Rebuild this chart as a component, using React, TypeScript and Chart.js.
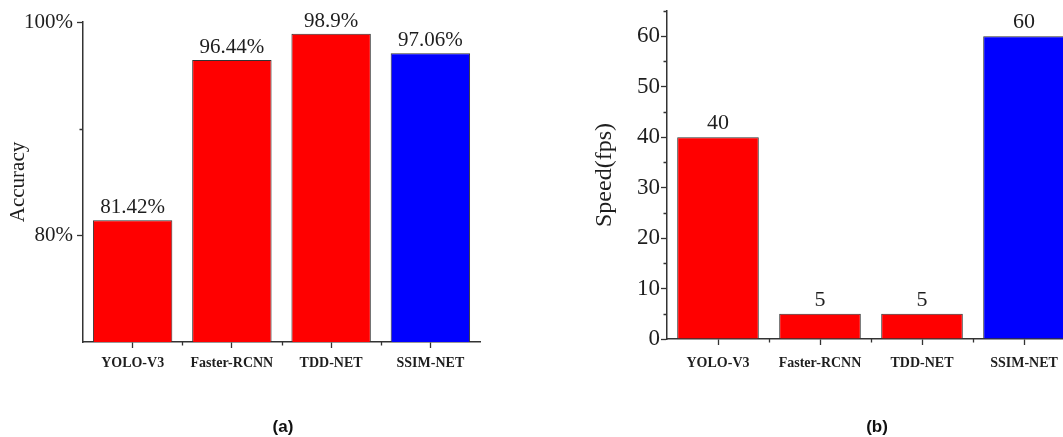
import React, { useEffect, useRef } from "react";
import { Chart, registerables } from "chart.js";

Chart.register(...registerables);

// ---------- data ----------
const models = ["YOLO-V3", "Faster-RCNN", "TDD-NET", "SSIM-NET"];
const accuracy = [81.42, 96.44, 98.9, 97.06];
const speed = [40, 5, 5, 60];
const barColors = ["#FF0000", "#FF0000", "#FF0000", "#0000FF"];
const accuracyMajorTicks = [80, 100];
const accuracyMinorTicks = [90];
const speedMajorTicks = [0, 10, 20, 30, 40, 50, 60];
const speedMinorTicks = [5, 15, 25, 35, 45, 55, 65];

const SERIF = "'Liberation Serif', 'Times New Roman', serif";
const SANS = "'Liberation Sans', Arial, sans-serif";
const AXIS = "#333333";
const TEXT = "#1e1e1e";

const extrasPlugin = {
  id: "extras",
  afterDraw(chart: any, _args: any, opts: any) {
    const ctx = chart.ctx;
    const meta = chart.getDatasetMeta(0);
    const xs = chart.scales.x;
    const ys = chart.scales.y;
    ctx.save();
    // value labels above bars
    ctx.fillStyle = TEXT;
    ctx.font = `${opts.labelSize}px ${SERIF}`;
    ctx.textAlign = "center";
    ctx.textBaseline = "alphabetic";
    meta.data.forEach((bar: any, i: number) => {
      ctx.fillText(opts.labels[i], bar.x, bar.y - opts.labelGap);
    });
    // panel caption
    ctx.fillStyle = "#111111";
    ctx.font = `bold 17px ${SANS}`;
    ctx.textBaseline = "middle";
    ctx.fillText(opts.caption, (xs.left + xs.right) / 2 + opts.captionDx, opts.captionY);
    // minor ticks
    ctx.strokeStyle = AXIS;
    ctx.lineWidth = 1.3;
    ctx.beginPath();
    (opts.minorY as number[]).forEach((v) => {
      const py = Math.round(ys.getPixelForValue(v)) + 0.5;
      ctx.moveTo(ys.right, py);
      ctx.lineTo(ys.right - 3.5, py);
    });
    for (let i = 1; i < models.length; i++) {
      const px = Math.round(xs.getPixelForValue(i - 0.5)) + 0.5;
      ctx.moveTo(px, xs.top);
      ctx.lineTo(px, xs.top + 3.5);
    }
    ctx.stroke();
    ctx.restore();
  },
};

function buildConfig(p: any) {
  return {
    type: "bar",
    data: {
      labels: models,
      datasets: [
        {
          data: p.values,
          base: p.min,
          backgroundColor: barColors,
          borderColor: AXIS,
          borderWidth: 1,
          barPercentage: 0.8,
          categoryPercentage: 1,
        },
      ],
    },
    options: {
      animation: false,
      responsive: false,
      maintainAspectRatio: false,
      layout: { padding: { top: p.padTop, left: 0, right: p.padRight, bottom: 0 } },
      plugins: {
        legend: { display: false },
        tooltip: { enabled: false },
        extras: {
          labels: p.labels,
          labelSize: p.labelSize,
          labelGap: p.labelGap,
          minorY: p.minorTicks,
          caption: p.caption,
          captionDx: p.captionDx,
          captionY: 427,
        },
      },
      scales: {
        x: {
          offset: true,
          grid: {
            display: true,
            drawOnChartArea: false,
            offset: false,
            tickLength: 6,
            tickColor: AXIS,
            tickWidth: 1.3,
          },
          border: { display: true, color: AXIS, width: 1.5 },
          ticks: {
            color: TEXT,
            font: { family: SERIF, size: 14, weight: "bold" },
            padding: p.xTickPad,
            maxRotation: 0,
            autoSkip: false,
          },
          afterFit: (s: any) => {
            s.height = p.xHeight;
            s.paddingLeft = 0;
            s.paddingRight = 0;
          },
        },
        y: {
          min: p.min,
          max: p.max,
          afterBuildTicks: (s: any) => {
            s.ticks = p.majorTicks.map((v: number) => ({ value: v }));
          },
          grid: {
            display: true,
            drawOnChartArea: false,
            tickLength: 6,
            tickColor: AXIS,
            tickWidth: 1.3,
          },
          border: { display: true, color: AXIS, width: 1.5 },
          ticks: {
            color: TEXT,
            font: { family: SERIF, size: p.tickSize },
            padding: p.yTickPad,
            callback: (v: any) => `${v}${p.unit}`,
          },
          title: {
            display: true,
            text: p.yTitle,
            color: TEXT,
            font: { family: SERIF, size: p.titleSize },
            padding: { top: p.yTitlePad, bottom: 0 },
          },
          afterFit: (s: any) => {
            s.width = p.yWidth;
            s.paddingTop = 0;
            s.paddingBottom = 0;
          },
        },
      },
    },
    plugins: [extrasPlugin],
  } as any;
}

function Panel(props: { cfg: any; left: number; width: number }) {
  const ref = useRef<HTMLCanvasElement>(null);
  useEffect(() => {
    if (!ref.current) return;
    const chart = new Chart(ref.current, buildConfig(props.cfg));
    return () => chart.destroy();
  }, []);
  return (
    <canvas
      ref={ref}
      width={props.width}
      height={437}
      style={{ position: "absolute", left: props.left, top: 0, width: props.width, height: 437 }}
    />
  );
}

const cfgA = {
  values: accuracy,
  labels: accuracy.map((v) => `${v}%`),
  min: 70,
  max: 100,
  majorTicks: accuracyMajorTicks,
  minorTicks: accuracyMinorTicks,
  unit: "%",
  yTitle: "Accuracy",
  caption: "(a)",
  captionDx: 1.5,
  padTop: 22,
  padRight: 86,
  yWidth: 83,
  xHeight: 95,
  tickSize: 21,
  titleSize: 21,
  labelSize: 21,
  labelGap: 7,
  yTickPad: 4,
  yTitlePad: 6,
  xTickPad: 7,
};

const cfgB = {
  values: speed,
  labels: speed.map((v) => `${v}`),
  min: 0,
  max: 65,
  majorTicks: speedMajorTicks,
  minorTicks: speedMinorTicks,
  unit: "",
  yTitle: "Speed(fps)",
  caption: "(b)",
  captionDx: 6,
  padTop: 11,
  padRight: 25,
  yWidth: 107,
  xHeight: 98,
  tickSize: 23,
  titleSize: 24,
  labelSize: 22,
  labelGap: 8,
  yTickPad: 1,
  yTitlePad: 30,
  xTickPad: 10,
};

export default function App() {
  return (
    <div
      style={{
        position: "fixed",
        left: 0,
        top: 0,
        width: 1063,
        height: 437,
        overflow: "hidden",
        background: "#ffffff",
      }}
    >
      <Panel cfg={cfgA} left={0} width={566} />
      <Panel cfg={cfgB} left={560} width={540} />
    </div>
  );
}
